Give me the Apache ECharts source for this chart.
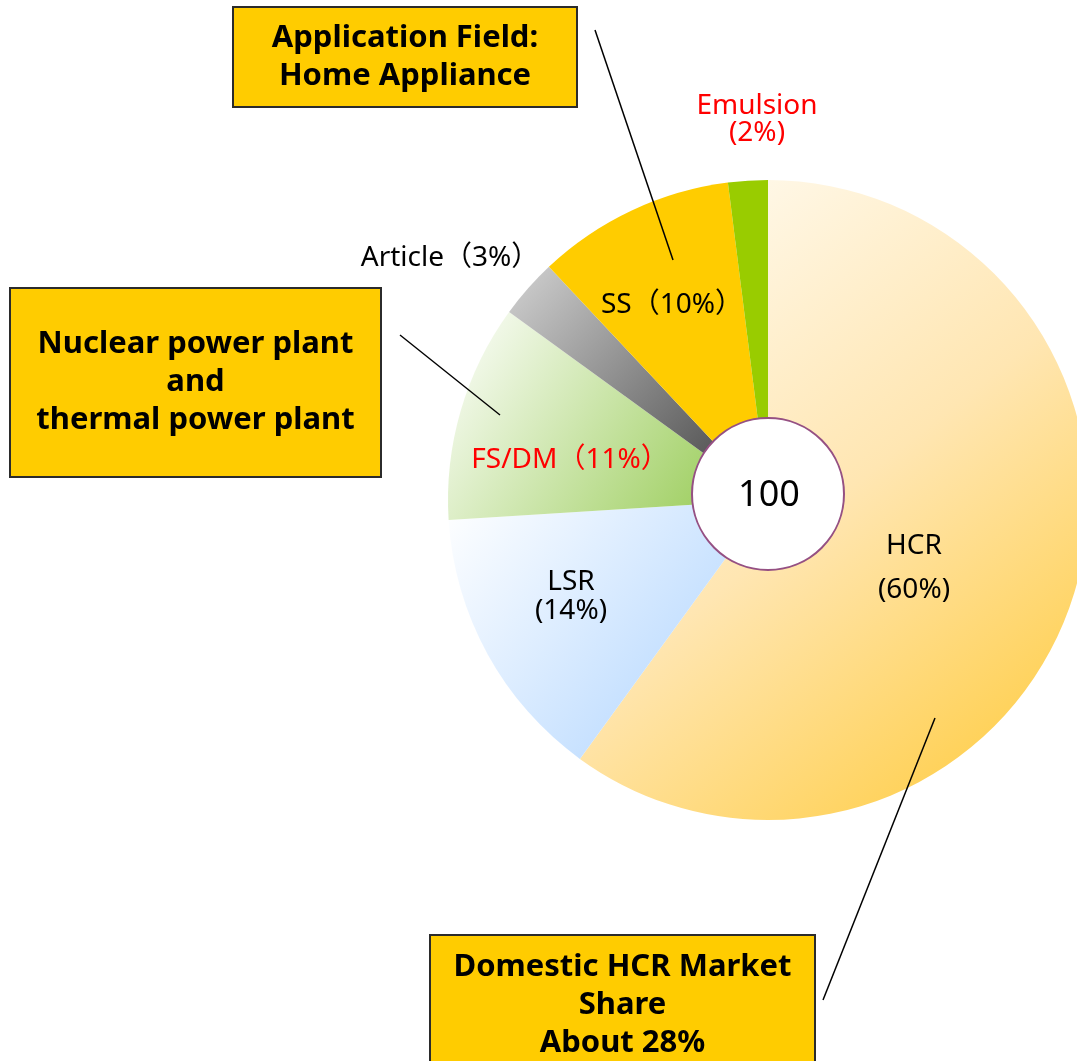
<!DOCTYPE html>
<html>
<head>
<meta charset="utf-8">
<script src="https://cdn.jsdelivr.net/npm/echarts@6/dist/echarts.min.js"></script>
<style>
    html, body { margin: 0; padding: 0; background: #fff; }
    #chart_main { width: 1077px; height: 1061px; }
</style>
</head>
<body>
<div id="chart_main"></div>
<script>
var names = ['HCR', 'LSR', 'FS/DM', 'Article', 'SS', 'Emulsion'];
var values = [60, 14, 11, 3, 10, 2];
// 0 = one line with wide brackets, 1 = two lines
var labelKind = [1, 1, 0, 0, 0, 1];
var labelRed = [false, false, true, false, false, true];

$font = "'Noto Sans', 'Noto Sans CJK KR', sans-serif";

// where each slice label sits
var labelPos = [[914, 568], [571, 597], [570, 460], [450, 258], [672, 305], [757, 120]];
var labelLine = [44, 29, 30, 30, 30, 27];

function grad(c0, c1) {
    return new echarts.graphic.LinearGradient(0, 0, 1, 1, [
        {offset: 0, color: c0},
        {offset: 1, color: c1}
    ]);
}

var fills = [
    new echarts.graphic.LinearGradient(0, 0, 1, 1, [
        {offset: 0, color: '#FFFEFA'},
        {offset: 0.5, color: '#FFE6B2'},
        {offset: 1, color: '#FFC933'}
    ]),
    grad('#FFFFFF', '#A9D1FF'),
    grad('#FFFFFF', '#8FC747'),
    grad('#D2D2D2', '#3A3A3A'),
    '#FFCC00',
    '#99CC00'
];

var total = 0;
for (var i in values) total += values[i];

var pieData = [];
for (var i in names) {
    pieData.push({
        name: names[i],
        value: values[i],
        itemStyle: {color: fills[i]},
        label: {
            color: labelRed[i] ? '#FF0000' : '#000',
            lineHeight: labelLine[i],
            formatter: labelKind[i] ? '{b}\n({c}%)' : '{b}（{c}%）'
        }
    });
}

function box(x, y, w, h, text) {
    return {
        type: 'group',
        z: 10,
        children: [{
            type: 'rect',
            shape: {x: x, y: y, width: w, height: h},
            style: {fill: '#FFCC00', stroke: '#2b2b2b', lineWidth: 2}
        }, {
            type: 'text',
            x: x + w / 2,
            y: y + h / 2,
            style: {
                text: text,
                font: 'bold 31px ' + $font,
                fill: '#000',
                align: 'center',
                verticalAlign: 'middle',
                lineHeight: 38
            }
        }]
    };
}

function line(x1, y1, x2, y2) {
    return {
        type: 'line',
        z: 10,
        shape: {x1: x1, y1: y1, x2: x2, y2: y2},
        style: {stroke: '#000', lineWidth: 1.5}
    };
}

var myChart = echarts.init(document.getElementById('chart_main'));
option = {
    animation: false,
    backgroundColor: '#fff',
    series: [{
        type: 'pie',
        center: [768, 500],
        radius: [0, 320],
        startAngle: 90,
        clockwise: true,
        data: pieData,
        label: {
            show: true,
            position: 'inside',
            fontFamily: $font,
            fontSize: 28,
            align: 'center'
        },
        labelLine: {show: false},
        labelLayout: function (params) {
            var p = labelPos[params.dataIndex];
            return {x: p[0], y: p[1], align: 'center', verticalAlign: 'middle'};
        },
        emphasis: {disabled: true}
    }],
    graphic: [
        {
            type: 'circle',
            z: 20,
            shape: {cx: 768, cy: 494, r: 76},
            style: {fill: '#fff', stroke: '#955083', lineWidth: 2}
        },
        {
            type: 'text',
            z: 21,
            x: 769,
            y: 496,
            style: {
                text: String(total),
                font: '36px ' + $font,
                fill: '#000',
                align: 'center',
                verticalAlign: 'middle'
            }
        },
        box(233, 7, 344, 100, 'Application Field:\nHome Appliance'),
        box(10, 288, 371, 189, 'Nuclear power plant\nand\nthermal power plant'),
        box(430, 935, 385, 140, 'Domestic HCR Market\nShare\nAbout 28%'),
        line(595, 30, 673, 260),
        line(400, 335, 500, 415),
        line(823, 1000, 935, 718)
    ]
};
myChart.setOption(option);
</script>
</body>
</html>
